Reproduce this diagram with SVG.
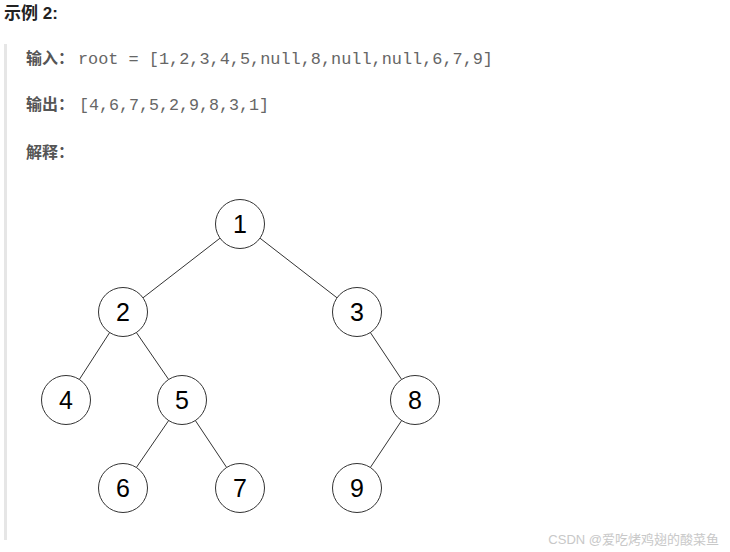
<svg xmlns="http://www.w3.org/2000/svg" width="730" height="552" viewBox="0 0 730 552">
<style>
.title{font-family:"Liberation Sans","Noto Sans CJK SC",sans-serif;font-size:17px;font-weight:bold;fill:#222}
.lbl{font-family:"Liberation Sans","Noto Sans CJK SC",sans-serif;font-size:16px;font-weight:bold;fill:#555}
.code{font-family:"Liberation Mono","DejaVu Sans Mono",monospace;font-size:16px;fill:#666}
.node circle{fill:#fff;stroke:#333;stroke-width:1}
.node text{font-family:"Liberation Sans",Arial,sans-serif;font-size:25px;fill:#000;text-anchor:middle}
.edges line{stroke:#333;stroke-width:1}
.wm{font-family:"Liberation Sans","Noto Sans CJK SC",sans-serif;font-size:13px;fill:#c8c8c8;text-anchor:end}
</style>
<rect width="730" height="552" fill="#fff"/>
<text class="title" x="4" y="19">示例 2:</text>
<rect x="4" y="44" width="3" height="496" fill="#e6e6e6"/>
<text class="lbl" x="26" y="64">输入：</text>
<text class="code" x="78" y="64" textLength="415" lengthAdjust="spacingAndGlyphs">root = [1,2,3,4,5,null,8,null,null,6,7,9]</text>
<text class="lbl" x="26" y="110">输出：</text>
<text class="code" x="79" y="110" textLength="190" lengthAdjust="spacingAndGlyphs">[4,6,7,5,2,9,8,3,1]</text>
<text class="lbl" x="26" y="158">解释：</text>
<g class="edges">
<line x1="220" y1="238.2" x2="143" y2="297.8"/>
<line x1="260" y1="238.2" x2="337" y2="297.8"/>
<line x1="110" y1="332" x2="79" y2="380"/>
<line x1="136" y1="332" x2="169" y2="380"/>
<line x1="370" y1="332" x2="402" y2="380"/>
<line x1="169" y1="420" x2="136" y2="468"/>
<line x1="195" y1="420" x2="227" y2="468"/>
<line x1="402" y1="420" x2="370" y2="468"/>
</g>
<g id="n1" class="node"><circle cx="240" cy="224" r="24.5"/><text x="240" y="233">1</text></g>
<g id="n2" class="node"><circle cx="123" cy="312" r="24.5"/><text x="123" y="321">2</text></g>
<g id="n3" class="node"><circle cx="357" cy="312" r="24.5"/><text x="357" y="321">3</text></g>
<g id="n4" class="node"><circle cx="66" cy="400" r="24.5"/><text x="66" y="409">4</text></g>
<g id="n5" class="node"><circle cx="182" cy="400" r="24.5"/><text x="182" y="409">5</text></g>
<g id="n8" class="node"><circle cx="415" cy="400" r="24.5"/><text x="415" y="409">8</text></g>
<g id="n6" class="node"><circle cx="123" cy="488" r="24.5"/><text x="123" y="497">6</text></g>
<g id="n7" class="node"><circle cx="240" cy="488" r="24.5"/><text x="240" y="497">7</text></g>
<g id="n9" class="node"><circle cx="357" cy="488" r="24.5"/><text x="357" y="497">9</text></g>
<text class="wm" x="719" y="544">CSDN @爱吃烤鸡翅的酸菜鱼</text>
</svg>
